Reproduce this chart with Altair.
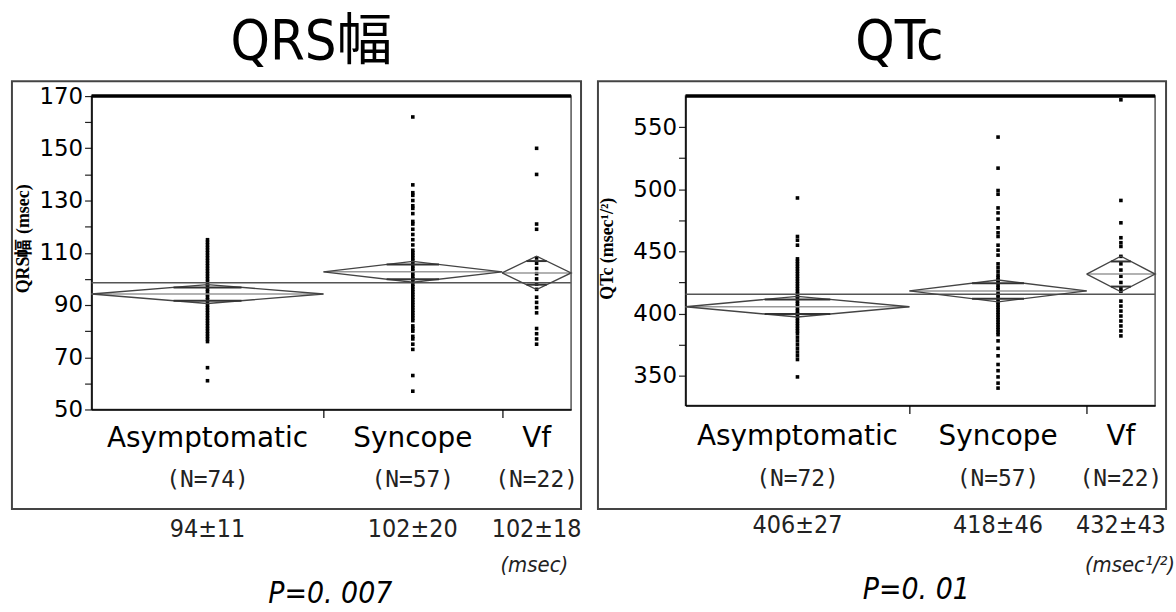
import altair as alt
import pandas as pd

groups = ["Asymptomatic", "Syncope", "Vf"]

# ---- QRS panel values ----
qrs_n = [74, 57, 22]
qrs_mean = [94.2, 102.7, 102.3]
qrs_ci = [3.6, 4.0, 6.4]
qrs_grand = 98.5
qrs_summary = ["94±11", "102±20", "102±18"]
qrs_asym = [61, 66, 76, 77, 78, 79, 80, 81, 82, 83, 84, 85, 86, 87, 88, 89, 90, 91, 92, 93,
            94, 95, 96, 97, 98, 99, 100, 101, 102, 103, 104, 105, 106, 107, 108, 109, 110,
            111, 112, 113, 114, 115]
qrs_sync = [57, 63, 73, 75, 77, 78, 80, 81, 82, 84, 85, 86, 87, 88, 89, 90, 91, 92, 93, 94,
            95, 96, 97, 98, 99, 100, 101, 102, 103, 104, 105, 106, 107, 108, 109, 110, 111,
            113, 115, 117, 119, 121, 122, 125, 127, 128, 130, 132, 133, 136, 162]
qrs_vf = [75, 77, 79, 81, 87, 89, 91, 93, 96, 98, 100, 102, 104, 106, 108, 119, 121, 140, 150]
qrs_ticks = [50, 60, 70, 80, 90, 100, 110, 120, 130, 140, 150, 160, 170]

# ---- QTc panel values ----
qtc_n = [72, 57, 22]
qtc_mean = [405.5, 418.2, 431.8]
qtc_ci = [8.3, 8.8, 14.3]
qtc_grand = 415.6
qtc_summary = ["406±27", "418±46", "432±43"]
qtc_asym = [349, 363, 366, 369, 372, 375, 378, 381, 384, 386, 388, 390, 392, 394, 396, 398,
            400, 402, 404, 406, 408, 410, 412, 414, 416, 418, 420, 422, 424, 426, 428, 430,
            432, 434, 436, 438, 440, 442, 444, 455, 459, 462, 493]
qtc_sync = [340, 344, 349, 354, 359, 366, 372, 378, 383, 385, 387, 389, 391, 393, 395, 397,
            399, 401, 403, 405, 407, 409, 411, 413, 415, 417, 419, 421, 423, 425, 427, 429,
            431, 434, 437, 440, 447, 451, 455, 462, 465, 469, 476, 481, 485, 496, 499, 517, 542]
qtc_vf = [382, 386, 390, 394, 398, 402, 406, 410, 418, 420, 425, 430, 435, 440, 446, 454, 457,
          461, 473, 491, 572]
qtc_ticks = [350, 375, 400, 425, 450, 475, 500, 525, 550]

FONT_SANS = "DejaVu Sans"
FONT_NARROW = "Liberation Sans Narrow, DejaVu Sans Condensed, Noto Sans CJK JP"


def panel(title, ytitle, n, mean, ci, grand, summary, dots, ydomain, yticks, lab_base,
          lab_step, W, H, frame, ypos, unit_label, unit_align, unit_x, p_label, p_x,
          title_x, axis_title_x, axis_title_y):
    total = sum(n)
    starts, ends, centers = [], [], []
    s = 0
    for k in n:
        starts.append(s)
        ends.append(s + k)
        centers.append(s + k / 2)
        s += k
    gdf = pd.DataFrame({"group": groups, "n": n, "start": starts, "end": ends,
                        "center": centers, "mean": mean, "ci": ci, "summary": summary,
                        "nlabel": [f"(N={k})" for k in n]})
    rows = []
    for g, st, en, c, m, h in zip(groups, starts, ends, centers, mean, ci):
        pts = [(st, m), (c, m + h), (en, m), (c, m - h), (st, m)]
        for o, (px, py) in enumerate(pts):
            rows.append({"group": g, "x": px, "y": py, "o": o})
    ddf = pd.DataFrame(rows)
    orows = []
    for g, st, en, c, m, h in zip(groups, starts, ends, centers, mean, ci):
        half = (en - st) / 2
        for sign in (1, -1):
            orows.append({"group": g, "x1": c - 0.293 * half, "x2": c + 0.293 * half,
                          "y": m + sign * h * 0.707})
    odf = pd.DataFrame(orows)
    prow = []
    for g, c, vals in zip(groups, centers, dots):
        for v in vals:
            prow.append({"group": g, "x": c, "v": v})
    pdf = pd.DataFrame(prow)

    xs = alt.Scale(domain=[0, total], nice=False, zero=False, padding=0)
    ys = alt.Scale(domain=ydomain, nice=False, zero=False)
    xaxis = alt.Axis(values=[ends[0], ends[1]], labels=False, title=None, tickSize=8,
                     grid=False, domainColor="black", tickColor="black", domainWidth=1.5,
                     tickWidth=1.2)
    yaxis = alt.Axis(values=yticks,
                     labelExpr=f"(datum.value - {lab_base}) % {lab_step} == 0 ? datum.label : ''",
                     title=ytitle, titleX=axis_title_x, titleY=axis_title_y, titleAngle=270,
                     titleAlign="center", titleBaseline="middle", titleFont="Liberation Serif",
                     titleFontWeight="bold", titleFontSize=18, titleColor="black",
                     tickSize=7, labelPadding=2, grid=False, domainColor="black",
                     tickColor="#222", labelFont=FONT_SANS, labelFontSize=23,
                     labelColor="black", domainWidth=1.5, tickWidth=1.2, labelOverlap=False)

    def X(f):
        return alt.X(f, scale=xs, axis=xaxis, title=None)

    def Y(f):
        return alt.Y(f, scale=ys, axis=yaxis, title=ytitle)

    one = pd.DataFrame({"a": [0]})

    frame_l = alt.Chart(one).mark_rect(fillOpacity=0, stroke="#444", strokeWidth=2).encode(
        x=alt.value(frame[0]), x2=alt.value(frame[1]), y=alt.value(frame[2]),
        y2=alt.value(frame[3]))

    dots_l = alt.Chart(pdf).mark_square(size=13, color="black", opacity=1).encode(
        x=X("x:Q"), y=Y("v:Q"))

    grand_l = alt.Chart(pd.DataFrame({"g": [grand]})).mark_rule(
        color="#555", strokeWidth=1.5).encode(
        x=alt.value(0), x2=alt.value(W), y=Y("g:Q"))

    diamond = alt.Chart(ddf).mark_line(color="#444", strokeWidth=1.4).encode(
        x=X("x:Q"), y=Y("y:Q"), order="o:Q", detail="group:N")

    mean_l = alt.Chart(gdf).mark_rule(color="#999", strokeWidth=1.5).encode(
        x=X("start:Q"), x2="end:Q", y=Y("mean:Q"))

    overlap = alt.Chart(odf).mark_rule(color="#333", strokeWidth=2).encode(
        x=X("x1:Q"), x2="x2:Q", y=Y("y:Q"))

    top_l = alt.Chart(one).mark_rule(color="black", strokeWidth=3.5).encode(
        x=alt.value(0), x2=alt.value(W), y=alt.value(0))

    cat_t = alt.Chart(gdf).mark_text(font=FONT_SANS, fontSize=28, color="black",
                                     baseline="middle").encode(
        x=X("center:Q"), y=alt.value(ypos[0]), text="group:N")
    n_t = alt.Chart(gdf).mark_text(font="DejaVu Sans Mono", fontSize=23, color="#222",
                                   baseline="middle").encode(
        x=X("center:Q"), y=alt.value(ypos[1]), text="nlabel:N")
    sum_t = alt.Chart(gdf).mark_text(font=FONT_NARROW, fontSize=25, color="#222",
                                     baseline="middle").encode(
        x=X("center:Q"), y=alt.value(ypos[2]), text="summary:N")
    unit_t = alt.Chart(one).mark_text(font=FONT_NARROW, fontSize=22, fontStyle="italic",
                                      color="#222", baseline="middle", align=unit_align).encode(
        x=alt.value(unit_x), y=alt.value(ypos[3]), text=alt.value(unit_label))
    p_t = alt.Chart(one).mark_text(font=FONT_NARROW, fontSize=30, fontStyle="italic",
                                   color="black", baseline="middle").encode(
        x=alt.value(p_x), y=alt.value(ypos[4]), text=alt.value(p_label))
    title_t = alt.Chart(one).mark_text(font=FONT_NARROW, fontSize=56, color="black",
                                       baseline="alphabetic").encode(
        x=alt.value(title_x), y=alt.value(-37), text=alt.value(title))

    return alt.layer(dots_l, frame_l, grand_l, mean_l, diamond, overlap, top_l,
                     cat_t, n_t, sum_t, unit_t, p_t, title_t).properties(width=W, height=H)


left = panel("QRS幅", "QRS幅 (msec)", qrs_n, qrs_mean, qrs_ci, qrs_grand, qrs_summary,
             [qrs_asym, qrs_sync, qrs_vf], [50, 170], qrs_ticks, 50, 20, 482, 315,
             (-80, 492, -15, 415), (345, 386, 435, 471, 501), "(msec)", "center", 445,
             "P=0. 007", 240, 221, -68, 143)

right = panel("QTc", "QTc (msec¹/²)", qtc_n, qtc_mean, qtc_ci, qtc_grand, qtc_summary,
              [qtc_asym, qtc_sync, qtc_vf], [326, 575], qtc_ticks, 350, 50, 472, 311,
              (-88, 483, -15, 415), (343, 385, 431, 471, 496), "(msec¹/²)", "right", 492,
              "P=0. 01", 232, 215, -78, 153)

chart = alt.hconcat(left, right, spacing=13).properties(
    padding={"left": 10, "top": 12, "right": 0, "bottom": 0},
    background="white",
).configure_view(stroke="#555", strokeWidth=1.5)

chart.save("out.html", embed_options={"renderer": "svg", "actions": False})
